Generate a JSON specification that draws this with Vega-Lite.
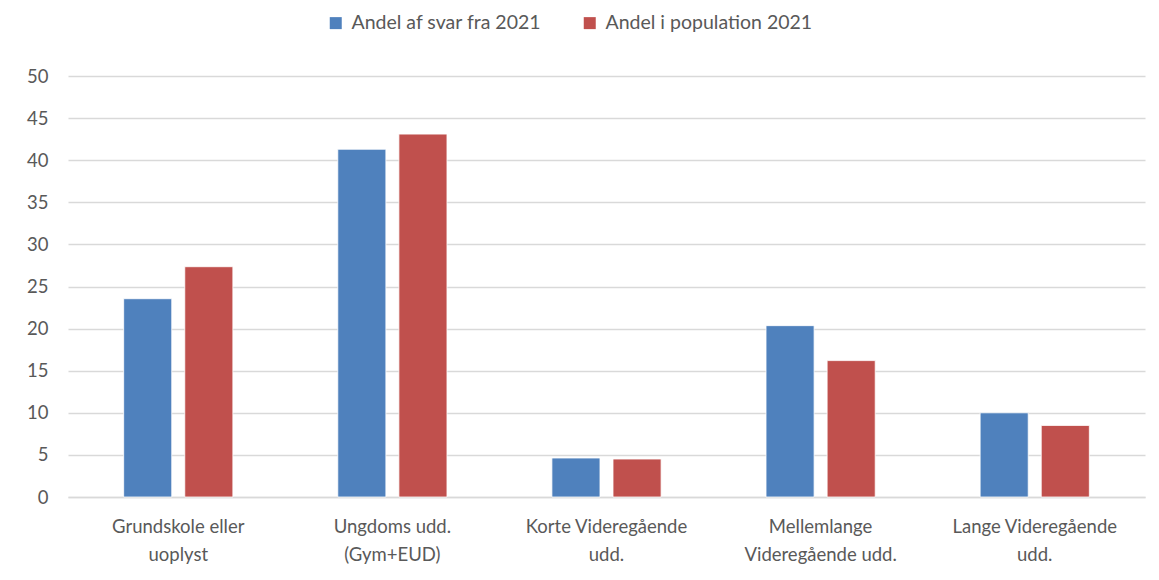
{
  "$schema": "https://vega.github.io/schema/vega-lite/v6.json",
  "width": 1077,
  "height": 421,
  "autosize": {"type": "none"},
  "padding": {"left": 68, "top": 76, "right": 14, "bottom": 83},
  "background": "white",
  "config": {
    "font": "Lato",
    "view": {"stroke": null}
  },
  "data": {
    "values": [
      {"kategori": "Grundskole eller|uoplyst", "serie": "Andel af svar fra 2021", "andel": 23.55},
      {"kategori": "Grundskole eller|uoplyst", "serie": "Andel i population 2021", "andel": 27.35},
      {"kategori": "Ungdoms udd.|(Gym+EUD)", "serie": "Andel af svar fra 2021", "andel": 41.3},
      {"kategori": "Ungdoms udd.|(Gym+EUD)", "serie": "Andel i population 2021", "andel": 43.1},
      {"kategori": "Korte Videregående|udd.", "serie": "Andel af svar fra 2021", "andel": 4.63},
      {"kategori": "Korte Videregående|udd.", "serie": "Andel i population 2021", "andel": 4.51},
      {"kategori": "Mellemlange|Videregående udd.", "serie": "Andel af svar fra 2021", "andel": 20.35},
      {"kategori": "Mellemlange|Videregående udd.", "serie": "Andel i population 2021", "andel": 16.2},
      {"kategori": "Lange Videregående|udd.", "serie": "Andel af svar fra 2021", "andel": 10.0},
      {"kategori": "Lange Videregående|udd.", "serie": "Andel i population 2021", "andel": 8.5}
    ]
  },
  "mark": {"type": "bar", "stroke": "white", "strokeWidth": 0.8},
  "encoding": {
    "x": {
      "field": "kategori",
      "type": "nominal",
      "sort": null,
      "title": null,
      "scale": {"paddingInner": 0.49, "paddingOuter": 0.26},
      "axis": {
        "labelExpr": "split(datum.label, '|')",
        "labelAngle": 0,
        "labelFontSize": 18.5,
        "labelColor": "#595959",
        "labelLineHeight": 28,
        "labelPadding": 20,
        "labelBaseline": "top",
        "labelLimit": 300,
        "ticks": false,
        "domain": true,
        "domainColor": "#d9d9d9",
        "domainWidth": 1.5,
        "grid": false
      }
    },
    "xOffset": {
      "field": "serie",
      "type": "nominal",
      "scale": {"paddingInner": 0.213, "paddingOuter": 0}
    },
    "y": {
      "field": "andel",
      "type": "quantitative",
      "title": null,
      "scale": {"domain": [0, 50], "nice": false},
      "axis": {
        "values": [0, 5, 10, 15, 20, 25, 30, 35, 40, 45, 50],
        "labelFontSize": 18.5,
        "labelColor": "#595959",
        "labelPadding": 20,
        "ticks": false,
        "domain": false,
        "gridColor": "#d9d9d9",
        "gridWidth": 1.5
      }
    },
    "color": {
      "field": "serie",
      "type": "nominal",
      "title": null,
      "scale": {
        "domain": ["Andel af svar fra 2021", "Andel i population 2021"],
        "range": ["#4F81BD", "#C0504D"]
      },
      "legend": {
        "orient": "none",
        "direction": "horizontal",
        "legendX": 258,
        "legendY": -63,
        "symbolType": "square",
        "symbolSize": 144,
        "symbolStrokeWidth": 0,
        "labelFontSize": 19.5,
        "labelColor": "#595959",
        "labelLimit": 400,
        "labelOffset": 6,
        "columnPadding": 38
      }
    }
  }
}
